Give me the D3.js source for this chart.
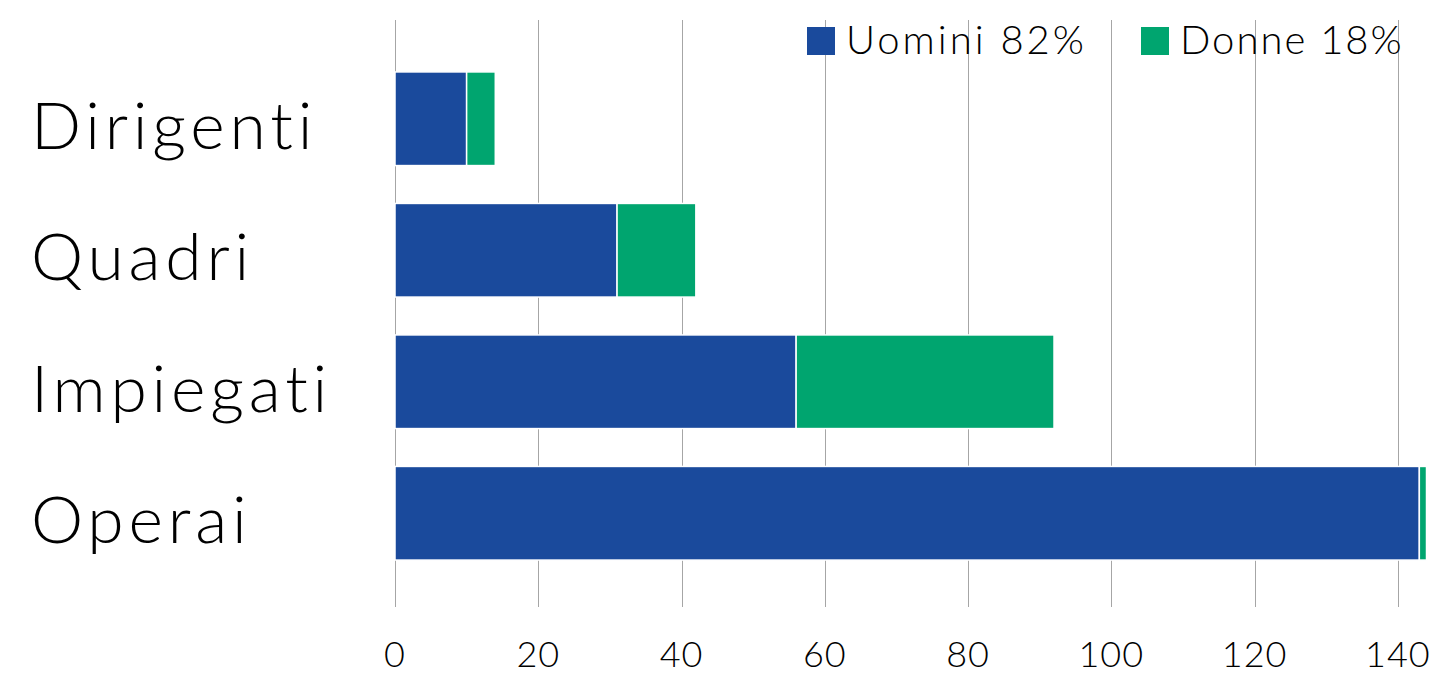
<!DOCTYPE html>
<html>
<head>
<meta charset="utf-8">
<script src="https://cdn.jsdelivr.net/npm/d3@7"></script>
<style>
  html, body { margin: 0; padding: 0; background: #fff; }
  svg { display: block; }
  text { font-family: "Lato", "Open Sans", sans-serif; fill: #000; }
</style>
</head>
<body>
<svg id="chart" width="1435" height="678"></svg>
<script>
// Workforce by category, split by gender
const categories = ["Dirigenti", "Quadri", "Impiegati", "Operai"];
const uomini = [10, 31, 56, 143];
const donne = [4, 11, 36, 1];
const seriesNames = ["Uomini 82%", "Donne 18%"];
const seriesColors = ["#1a4a9c", "#00a56f"];
const xTicks = [0, 20, 40, 60, 80, 100, 120, 140];

const svg = d3.select("#chart");

const x = d3.scaleLinear().domain([0, 144]).range([395, 1426.5]);
const y = d3.scaleBand().domain(categories).range([53, 579])
  .paddingInner(0.288).paddingOuter(0.144);

// vertical gridlines
svg.append("g").selectAll("line").data(xTicks).join("line")
  .attr("x1", d => Math.round(x(d)) + 0.5).attr("x2", d => Math.round(x(d)) + 0.5)
  .attr("y1", 20).attr("y2", 607)
  .attr("stroke", "#a6a6a6").attr("stroke-width", 1);

// stacked rows
const stackData = categories.map((c, i) => ({ cat: c, u: uomini[i], d: donne[i] }));
const stack = d3.stack().keys(["u", "d"])(stackData);

svg.append("g").selectAll("g").data(stack).join("g")
  .attr("fill", (s, i) => seriesColors[i])
  .selectAll("rect").data(s => s).join("rect")
  .attr("x", d => x(d[0]))
  .attr("y", d => y(d.data.cat))
  .attr("width", d => x(d[1]) - x(d[0]))
  .attr("height", y.bandwidth())
  .attr("stroke", "#fff").attr("stroke-width", 1.5);

// x axis tick labels
svg.append("g").selectAll("text").data(xTicks).join("text")
  .attr("x", d => x(d)).attr("y", 667)
  .attr("text-anchor", "middle")
  .attr("font-size", 36).attr("font-weight", 300)
  .attr("letter-spacing", 1)
  .text(d => d);

// category labels
svg.append("g").selectAll("text").data(categories).join("text")
  .attr("x", 31).attr("y", d => y(d) + y.bandwidth() / 2 + 30)
  .attr("font-size", 66).attr("font-weight", 300)
  .attr("letter-spacing", 4.8)
  .text(d => d);

// legend
const legendX = [807, 1141];
const lg = svg.append("g").selectAll("g").data(seriesNames).join("g")
  .attr("transform", (d, i) => `translate(${legendX[i]},27)`);
lg.append("rect").attr("width", 28).attr("height", 28)
  .attr("fill", (d, i) => seriesColors[i]);
lg.append("text").attr("x", 39).attr("y", 27)
  .attr("font-size", 40).attr("font-weight", 300)
  .attr("letter-spacing", (d, i) => i === 0 ? 3 : 2)
  .text(d => d);
</script>
</body>
</html>
